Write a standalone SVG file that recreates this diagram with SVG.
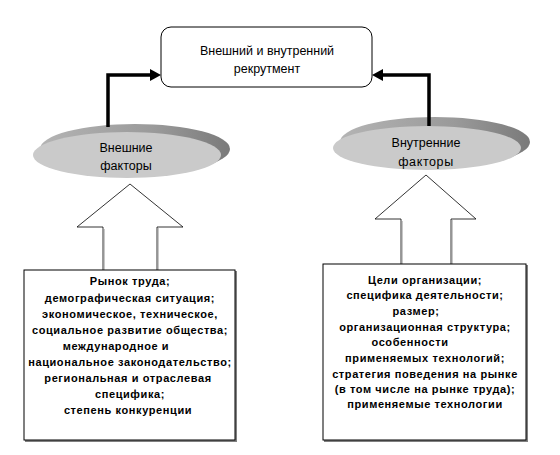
<svg xmlns="http://www.w3.org/2000/svg" width="560" height="455" viewBox="0 0 560 455">
<defs>
<linearGradient id="rim" x1="0" y1="0" x2="1" y2="0">
<stop offset="0" stop-color="#b4b4b4"/>
<stop offset="0.6" stop-color="#9a9a9a"/>
<stop offset="1" stop-color="#7a7a7a"/>
</linearGradient>
</defs>
<style>
.lbl{font-family:"Liberation Sans",Arial,sans-serif;font-size:12.5px;fill:#000;text-anchor:middle}
.bt{font-family:"Liberation Sans",Arial,sans-serif;font-size:11px;font-weight:bold;letter-spacing:0.6px;fill:#000;text-anchor:middle}
.box{fill:#fff;stroke:#000;stroke-width:1}
.shd{fill:none;stroke:#808080;stroke-width:2}
.face{fill:#cacaca}
.conn{fill:none;stroke:#000;stroke-width:3.5}
.barrow{fill:#fff;stroke:#000;stroke-width:0.8}
</style>
<rect width="560" height="455" fill="#fff"/>

<g id="top">
<rect x="161" y="27" width="211" height="60" rx="10" ry="10" fill="#fff" stroke="#000" stroke-width="1"/>
<text class="lbl" x="267" y="55">Внешний и внутренний</text>
<text class="lbl" x="267" y="73">рекрутмент</text>
</g>

<g id="ext">
<ellipse cx="135" cy="149" rx="95" ry="25" fill="url(#rim)"/>
<ellipse cx="127" cy="155" rx="94" ry="23" class="face"/>
<text class="lbl" x="126" y="152">Внешние</text>
<text class="lbl" x="126" y="170">факторы</text>
</g>

<g id="int">
<ellipse cx="435" cy="142" rx="95" ry="25" fill="url(#rim)"/>
<ellipse cx="427" cy="148" rx="94" ry="22" class="face"/>
<text class="lbl" x="426" y="147">Внутренние</text>
<text class="lbl" x="426" y="166" letter-spacing="0.6">факторы</text>
</g>

<g id="connectors">
<path class="conn" d="M108,127 V75 H151"/>
<path d="M150,69 L161,75 L150,81 Z" fill="#000"/>
<path class="conn" d="M429,126 V75 H382"/>
<path d="M383,69 L372,75 L383,81 Z" fill="#000"/>
</g>

<g id="ext-arrow">
<path class="barrow" d="M103,270 V227 H77 L130,184 L183,227 H157 V270"/>
<path d="M104,229 V270 M158,228 V270" stroke="#909090" stroke-width="1" fill="none"/>
</g>

<g id="int-arrow">
<path class="barrow" d="M401,264 V219 H375 L426,175 L476,219 H451 V264"/>
<path d="M402,221 V264 M452,220 V264" stroke="#909090" stroke-width="1" fill="none"/>
</g>

<g id="ext-box">
<path class="shd" d="M236,271 V441 H25"/>
<rect class="box" x="24" y="270" width="211" height="170"/>
<text class="bt" x="130" y="285">Рынок труда;</text>
<text class="bt" x="130" y="302">демографическая ситуация;</text>
<text class="bt" x="130" y="318">экономическое, техническое,</text>
<text class="bt" x="130" y="334">социальное развитие общества;</text>
<text class="bt" x="116" y="350">международное и</text>
<text class="bt" x="130" y="366">национальное законодательство;</text>
<text class="bt" x="128" y="382">региональная и отраслевая</text>
<text class="bt" x="130" y="398">специфика;</text>
<text class="bt" x="128" y="414">степень конкуренции</text>
</g>

<g id="int-box">
<path class="shd" d="M527,265 V441 H324"/>
<rect class="box" x="323" y="264" width="203" height="176"/>
<text class="bt" x="425" y="284">Цели организации;</text>
<text class="bt" x="425" y="299">специфика деятельности;</text>
<text class="bt" x="416" y="315">размер;</text>
<text class="bt" x="425" y="331">организационная структура;</text>
<text class="bt" x="410" y="346">особенности</text>
<text class="bt" x="425" y="362">применяемых технологий;</text>
<text class="bt" x="425" y="378">стратегия поведения  на рынке</text>
<text class="bt" x="425" y="393">(в том числе на рынке труда);</text>
<text class="bt" x="425" y="408">применяемые технологии</text>
</g>
</svg>
